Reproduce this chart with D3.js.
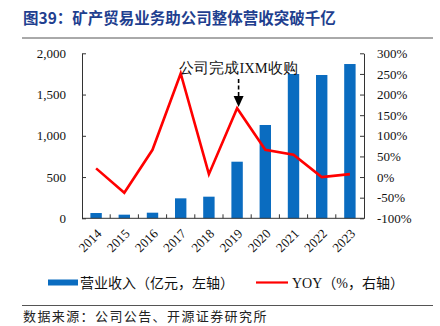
<!DOCTYPE html>
<html><head><meta charset="utf-8">
<script src="https://cdn.jsdelivr.net/npm/d3@7"></script>
<style>body{margin:0;background:#fff}svg{display:block}</style>
</head><body>
<script>
const years = ["2014","2015","2016","2017","2018","2019","2020","2021","2022","2023"];
const revenue = [64, 44, 68, 242, 262, 686, 1131, 1749, 1737, 1870];
const yoy = [21, -38, 66, 251, 7, 167, 66, 54, 0, 7];
const leftTicks = [0, 500, 1000, 1500, 2000];
const rightTicks = [-100, -50, 0, 50, 100, 150, 200, 250, 300];
const title = "图39：矿产贸易业务助公司整体营收突破千亿";
const source = "数据来源：公司公告、开源证券研究所";
const annotation = "公司完成IXM收购";
const legendBar = "营业收入（亿元，左轴）";
const legendLineParts = [["YOY", "serif"], ["（", "cjk"], ["%", "serif"], ["，右轴）", "cjk"]];

const W = 440, H = 326;
const serif = "'Liberation Serif','DejaVu Serif',serif";
const cjk = "'Noto Sans CJK SC',sans-serif";
const svg = d3.select("body").append("svg").attr("width", W).attr("height", H);

svg.append("text").attr("x", 23).attr("y", 24).attr("fill", "#1f3f8f")
  .attr("font-family", cjk).attr("font-weight", "bold").attr("font-size", 15.5).text(title);
svg.append("line").attr("x1", 22).attr("x2", 433).attr("y1", 38).attr("y2", 38).attr("stroke", "#555").attr("stroke-width", 1);

const x0 = 82, x1 = 364, yTop = 53.3, yBot = 218.3;
const xb = d3.scaleBand().domain(years).range([x0, x1]);
const yL = d3.scaleLinear().domain([0, 2000]).range([yBot, yTop]);
const yR = d3.scaleLinear().domain([-100, 300]).range([yBot, yTop]);

svg.append("g").selectAll("rect").data(years).join("rect")
  .attr("x", (d) => xb(d) + xb.bandwidth()/2 - 5.7)
  .attr("width", 11.4)
  .attr("y", (d, i) => yL(revenue[i]))
  .attr("height", (d, i) => yBot - yL(revenue[i]))
  .attr("fill", "#0a6cc0");

// left axis
const gl = svg.append("g").attr("transform", `translate(${x0},0)`)
  .call(d3.axisLeft(yL).tickValues(leftTicks).tickFormat(d3.format(",")).tickSizeInner(-4).tickSizeOuter(0).tickPadding(16));
gl.select(".domain").attr("stroke", "#333");
gl.selectAll(".tick line").attr("stroke", "#333");
gl.selectAll("text").attr("font-family", serif).attr("font-size", 13).attr("fill", "#111");

// right axis
const gr = svg.append("g").attr("transform", `translate(${x1},0)`)
  .call(d3.axisRight(yR).tickValues(rightTicks).tickFormat(d => d + "%").tickSizeInner(-4).tickSizeOuter(0).tickPadding(13));
gr.select(".domain").attr("stroke", "#333");
gr.selectAll(".tick line").attr("stroke", "#333");
gr.selectAll("text").attr("font-family", serif).attr("font-size", 13).attr("fill", "#111");

// bottom axis
const gb = svg.append("g").attr("transform", `translate(0,${yBot})`);
gb.append("line").attr("x1", x0).attr("x2", x1).attr("y1", 0).attr("y2", 0).attr("stroke", "#333");
gb.selectAll("line.tk").data(years.slice(1)).join("line").attr("class", "tk")
  .attr("x1", d => xb(d)).attr("x2", d => xb(d)).attr("y1", 0).attr("y2", -4).attr("stroke", "#333");
gb.selectAll("text").data(years).join("text")
  .attr("transform", d => `translate(${xb(d) + xb.bandwidth()/2 + 3},${13}) rotate(-45)`)
  .attr("text-anchor", "end").attr("dy", "0.35em")
  .attr("font-family", serif).attr("font-size", 13).attr("fill", "#111").text(d => d);

// line
const line = d3.line().x((d, i) => xb(years[i]) + xb.bandwidth()/2).y(d => yR(d));
svg.append("path").datum(yoy).attr("d", line).attr("fill", "none")
  .attr("stroke", "#ff0000").attr("stroke-width", 2.6).attr("stroke-linejoin", "miter");

// annotation
const ax = xb("2019") + xb.bandwidth()/2 + 1.5;
svg.append("text").attr("x", ax).attr("y", 73).attr("text-anchor", "middle")
  .attr("font-family", serif).attr("font-size", 14.5).attr("fill", "#111").text(annotation);
svg.append("line").attr("x1", ax).attr("x2", ax).attr("y1", 79).attr("y2", 97)
  .attr("stroke", "#000").attr("stroke-width", 1.6).attr("stroke-dasharray", "4,2.5");
svg.append("path").attr("d", `M${ax-5},96 L${ax+5},96 L${ax},107 Z`).attr("fill", "#000");

// legend
svg.append("rect").attr("x", 48).attr("y", 279.5).attr("width", 30).attr("height", 6).attr("fill", "#0a6cc0");
svg.append("text").attr("x", 80).attr("y", 288).attr("font-family", cjk).attr("font-size", 14).attr("fill", "#111").text(legendBar);
svg.append("line").attr("x1", 256).attr("x2", 288).attr("y1", 282.5).attr("y2", 282.5).attr("stroke", "#ff0000").attr("stroke-width", 2.2);
const lt = svg.append("text").attr("x", 292).attr("y", 288).attr("font-size", 14).attr("fill", "#111");
lt.selectAll("tspan").data(legendLineParts).join("tspan")
  .attr("font-family", d => d[1] === "serif" ? serif : cjk).text(d => d[0]);

svg.append("line").attr("x1", 22).attr("x2", 433).attr("y1", 305.5).attr("y2", 305.5).attr("stroke", "#555").attr("stroke-width", 1);
svg.append("text").attr("x", 23).attr("y", 321).attr("font-family", cjk).attr("font-size", 13).attr("letter-spacing", 1.4).attr("fill", "#222").text(source);
</script>
</body></html>
